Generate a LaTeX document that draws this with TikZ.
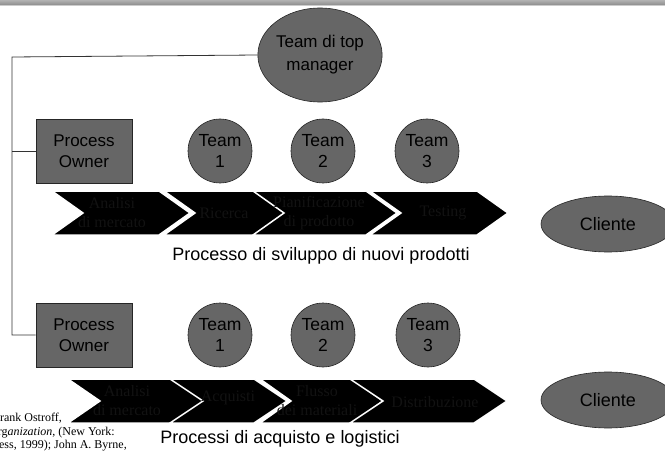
\documentclass[tikz,border=0pt]{standalone}
\usepackage{fontspec}
\setmainfont{Liberation Sans}
\newfontfamily\serifface{Liberation Serif}
\usetikzlibrary{shapes.geometric}

% chevron: #1 name, #2 left x, #3 tip x, #4 centre y, #5 notch depth
\newcommand{\chevronstep}[5]{%
  \path[chevshape] (#2,#4-22) -- (#3-#5,#4-22) -- (#3,#4) -- (#3-#5,#4+22)
        -- (#2,#4+22) -- (#2+#5,#4) -- cycle;
}

\begin{document}
\begin{tikzpicture}[x=1pt,y=-1pt,
  grayfill/.style={fill=black!60, draw=black!85, line width=0.6pt},
  team/.style={circle, grayfill, minimum size=64pt, inner sep=0pt, align=center,
    font=\fontsize{17.5}{21}\selectfont},
  owner/.style={rectangle, grayfill, minimum width=96pt, minimum height=64pt,
    inner sep=0pt, align=center, font=\fontsize{17}{21}\selectfont},
  client/.style={ellipse, grayfill, minimum width=134pt, minimum height=56pt,
    inner sep=0pt, font=\fontsize{18}{20}\selectfont},
  chevshape/.style={fill=black, draw=white, line width=1.5pt, line join=miter},
  chevlabel/.style={align=center, text=black!93, inner sep=0pt,
    font=\serifface\fontsize{16}{19}\selectfont},
  caption/.style={font=\fontsize{18}{20}\selectfont, inner sep=0pt},
  cite/.style={anchor=base east, inner sep=0pt, font=\serifface\fontsize{12}{14}\selectfont},
  link/.style={draw=black!80, line width=0.8pt}]

\useasboundingbox (0,0) rectangle (665,452);
\clip (0,0) rectangle (665,452);

% header strip
\shade[top color=black!30, bottom color=black!45] (0,0) rectangle (665,5);
\fill[black!20] (0,5) rectangle (665,6);

% bibliographic note, cut at the left margin
\node[cite] (cite1) at (62,421) {Frank Ostroff,};
\node[cite] (cite2) at (115,435) {The Horizontal Org\textit{anization}, (New York:};
\node[cite] (cite3) at (127,448) {Oxford University Press, 1999); John A. Byrne,};

% top management team
\node[ellipse, grayfill, minimum width=102pt, minimum height=94pt, inner sep=0pt,
  align=center, font=\fontsize{17}{23}\selectfont] (top) at (320,55) {Team di top\\manager};

% process owners
\node[owner] (po1) at (84,151) {Process\\Owner};
\node[owner] (po2) at (84,335) {Process\\Owner};

% reporting lines
\coordinate (corner) at (12,57);
\draw[link] (top.west) -- (corner) -- (corner |- po2.west) -- (po2.west);
\draw[link] (corner |- po1.west) -- (po1.west);

% teams
\node[team] (t11) at (220,151) {Team\\1};
\node[team] (t12) at (323,151) {Team\\2};
\node[team] (t13) at (427,151) {Team\\3};
\node[team] (t21) at (220,335) {Team\\1};
\node[team] (t22) at (323,335) {Team\\2};
\node[team] (t23) at (428,335) {Team\\3};

% new product development chain
\chevronstep{a1}{52}{190}{213}{31}
\chevronstep{a2}{164}{285}{213}{31}
\chevronstep{a3}{253}{397}{213}{31}
\chevronstep{a4}{370}{508}{213}{31}
\node[chevlabel] (la1) at (112,213) {Analisi\\di mercato};
\node[chevlabel] (la2) at (224,213) {Ricerca};
\node[chevlabel] (la3) at (319,213) {Pianificazione\\di prodotto};
\node[chevlabel] (la4) at (443,213) {Testing};

\node[client] (c1) at (608,224) {Cliente};
\node[caption] (cap1) at (321,256) {Processo di sviluppo di nuovi prodotti};

% purchasing and logistics chain
\chevronstep{b1}{68}{205}{401}{32}
\chevronstep{b2}{170}{287}{401}{33}
\chevronstep{b3}{260}{383}{401}{31}
\chevronstep{b4}{350}{507}{401}{33}
\node[chevlabel] (lb1) at (127,401) {Analisi\\di mercato};
\node[chevlabel] (lb2) at (228,398) {Acquisti};
\node[chevlabel] (lb3) at (317,401) {Flusso\\dei materiali};
\node[chevlabel] (lb4) at (435,402) {Distribuzione};

\node[client] (c2) at (608,400) {Cliente};
\node[caption, anchor=base] (cap2) at (280,443) {Processi di acquisto e logistici};

\end{tikzpicture}
\end{document}
